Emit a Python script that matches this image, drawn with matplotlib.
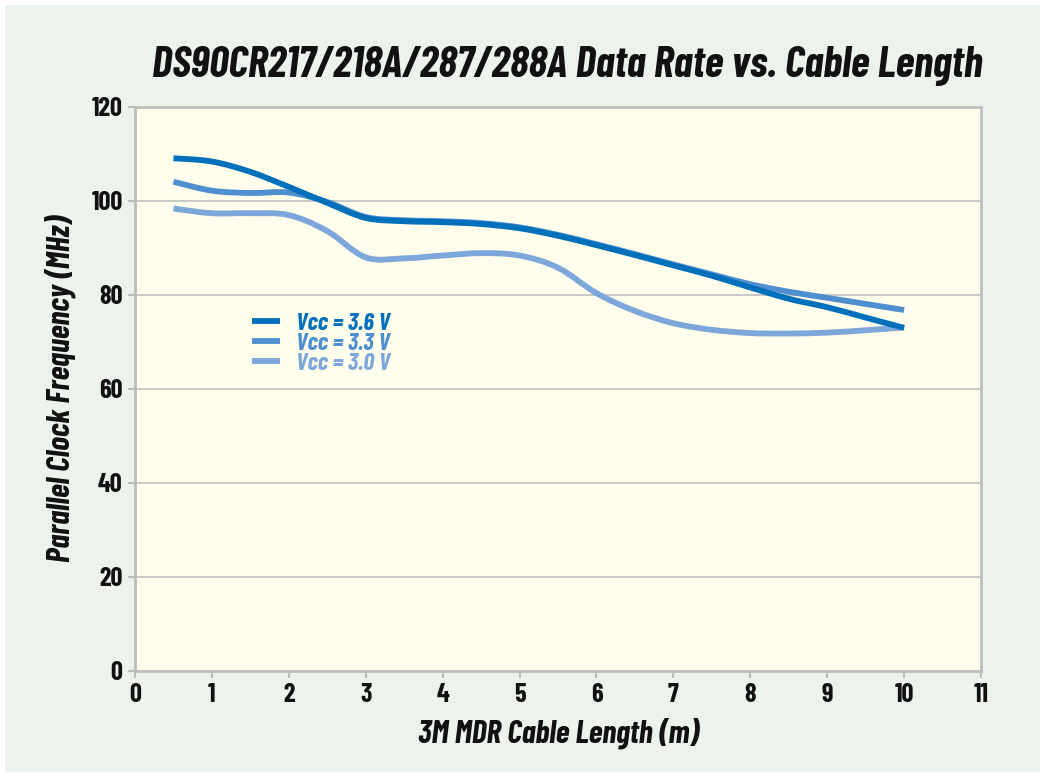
import matplotlib
matplotlib.use("Agg")
import matplotlib.pyplot as plt
from matplotlib.patches import Rectangle, PathPatch
from matplotlib.path import Path
from matplotlib.lines import Line2D

plt.rcParams['font.family'] = ['Barlow Condensed', 'DejaVu Sans']

cable_length = [0.5, 1.0, 1.5, 2.0, 2.5, 3.0, 3.5, 4.0, 4.5, 5.0, 5.5,
                6.0, 6.5, 7.0, 7.5, 8.0, 8.5, 9.0, 9.5, 10.0]
vcc_36 = [109.1, 108.4, 106.2, 103.0, 99.6, 96.4, 95.7, 95.5, 95.1, 94.2, 92.6,
          90.6, 88.5, 86.3, 84.1, 81.6, 79.2, 77.4, 75.2, 73.0]
vcc_33 = [104.1, 102.2, 101.7, 101.8, 99.8, 96.6, 95.9, 95.7, 95.3, 94.4, 92.8,
          90.8, 88.7, 86.5, 84.4, 82.3, 80.7, 79.4, 78.1, 76.8]
vcc_30 = [98.4, 97.4, 97.4, 97.0, 93.6, 88.0, 87.8, 88.4, 88.9, 88.4, 85.8,
          80.4, 76.6, 74.0, 72.6, 71.9, 71.8, 72.0, 72.5, 73.1]
labels = ['Vcc = 3.6 V', 'Vcc = 3.3 V', 'Vcc = 3.0 V']
colors = ['#0070BA', '#4F8FCF', '#7DA7DA']
x_ticks = list(range(0, 12))
y_ticks = list(range(0, 121, 20))


def smooth_path(xs, ys):
    """Catmull-Rom curve through the data points, as cubic Bezier segments."""
    pts = list(zip(xs, ys))
    n = len(pts)
    verts = [pts[0]]
    codes = [Path.MOVETO]
    for i in range(n - 1):
        p0 = pts[i - 1] if i > 0 else pts[i]
        p1 = pts[i]
        p2 = pts[i + 1]
        p3 = pts[i + 2] if i + 2 < n else pts[i + 1]
        c1 = (p1[0] + (p2[0] - p0[0]) / 6, p1[1] + (p2[1] - p0[1]) / 6)
        c2 = (p2[0] - (p3[0] - p1[0]) / 6, p2[1] - (p3[1] - p1[1]) / 6)
        verts += [c1, c2, p2]
        codes += [Path.CURVE4] * 3
    return Path(verts, codes)


fig = plt.figure(figsize=(10.45, 7.77), dpi=100, facecolor='white')
bg = Rectangle((5/1045, 5/777), 1035/1045, 767/777, transform=fig.transFigure,
               facecolor='#ECF3EC', edgecolor='none', zorder=-10)
fig.patches.append(bg)
ax = fig.add_axes([135/1045, 1 - 671/777, 846/1045, 564/777])
ax.set_facecolor('#FFFDEB')

LW = 4.2
series = [(vcc_30, colors[2], 3), (vcc_33, colors[1], 4), (vcc_36, colors[0], 5)]
for ys, c, z in series:
    ax.add_patch(PathPatch(smooth_path(cable_length, ys), facecolor='none',
                           edgecolor=c, lw=LW, capstyle='butt',
                           joinstyle='round', zorder=z))

ax.set_xlim(0, 11)
ax.set_ylim(0, 120)
ax.set_xticks(x_ticks)
ax.set_yticks(y_ticks)
ax.yaxis.grid(True, color='#C4C4C4', lw=1.3)
ax.set_axisbelow(True)
for s in ax.spines.values():
    s.set_color('#BDBDBD')
    s.set_linewidth(2)
ax.tick_params(axis='both', colors='#BDBDBD', length=5, width=1.5,
               labelcolor='#111111', labelsize=19, pad=4)
for lab in ax.get_xticklabels() + ax.get_yticklabels():
    lab.set_fontweight('bold')

ax.set_xlabel('3M MDR Cable Length (m)', fontsize=23, fontweight='bold',
              fontstyle='italic', color='#111111', labelpad=7)
ax.set_ylabel('Parallel Clock Frequency (MHz)', fontsize=23, fontweight='bold',
              fontstyle='italic', color='#111111', labelpad=11)
fig.text(567/1045, 1 - 66/777, 'DS90CR217/218A/287/288A Data Rate vs. Cable Length',
         ha='center', va='center', fontsize=31.3, fontweight='bold',
         fontstyle='italic', color='#111111')

handles = [Line2D([], [], color=c, lw=LW, solid_capstyle='butt') for c in colors]
leg = ax.legend(handles, labels,
                loc='upper left', bbox_to_anchor=(0.113, 0.674), frameon=False,
                handlelength=1.15, handletextpad=0.65, labelspacing=-0.08,
                labelcolor='linecolor',
                prop={'size': 17.5, 'weight': 'bold', 'style': 'italic'})

fig.savefig('out.png', dpi=100, facecolor=fig.get_facecolor())
